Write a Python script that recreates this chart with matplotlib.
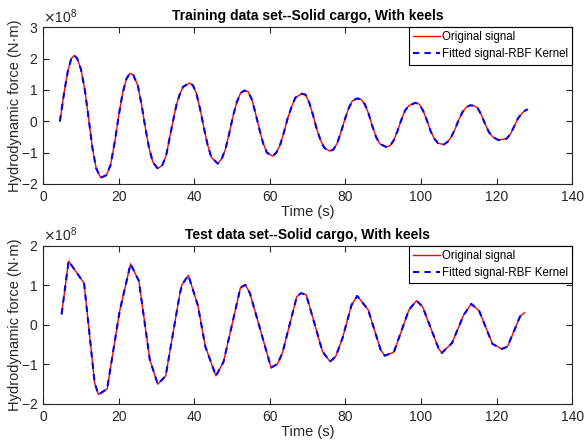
import numpy as np
import matplotlib.pyplot as plt
from matplotlib.ticker import ScalarFormatter

plt.rcParams['font.family'] = ['Liberation Sans', 'DejaVu Sans']

# Training set (time in s, force in 1e8 N*m)
train_t = [4.4, 5.5, 6.5, 7.4, 8.2, 9.0, 10.0, 11.0, 12.0, 13.0, 14.0, 15.2, 16.7, 17.8,
           19.0, 20.0, 21.0, 22.0, 22.9, 23.8, 25.0, 26.0, 27.0, 28.0, 29.0, 30.3, 31.5,
           32.5, 33.5, 34.5, 35.3, 36.1, 37.0, 38.7, 39.6, 40.5, 41.5, 42.5, 43.5, 44.5,
           46.2, 47.2, 48.2, 49.2, 50.2, 51.2, 52.2, 53.2, 54.2, 55.2, 56.2, 57.2, 58.2,
           59.2, 60.7, 61.7, 62.7, 63.7, 64.7, 65.7, 66.7, 68.4, 69.4, 70.4, 71.4, 72.4,
           73.4, 74.4, 75.8, 76.8, 77.8, 78.8, 79.8, 80.8, 81.8, 83.1, 84.1, 85.1, 86.1,
           87.1, 88.1, 89.1, 90.8, 91.8, 92.8, 93.8, 94.8, 95.8, 96.8, 98.5, 99.5, 100.5,
           101.5, 102.5, 103.5, 104.5, 106.0, 107.0, 108.0, 109.0, 110.0, 111.0, 112.0,
           113.0, 114.0, 115.0, 116.0, 117.0, 118.0, 119.0, 120.5, 122.7, 123.7, 124.7,
           125.7, 126.7, 127.5, 128.2]
train_f = [0.0, 0.9, 1.6, 2.0, 2.1, 2.0, 1.65, 1.0, 0.1, -0.85, -1.5, -1.8, -1.72, -1.4,
           -0.6, 0.2, 0.9, 1.35, 1.53, 1.48, 1.15, 0.55, -0.2, -0.85, -1.3, -1.51, -1.4,
           -1.1, -0.5, 0.1, 0.55, 0.85, 1.1, 1.22, 1.15, 0.9, 0.4, -0.2, -0.75, -1.15,
           -1.35, -1.2, -0.9, -0.4, 0.15, 0.6, 0.9, 0.98, 0.95, 0.7, 0.25, -0.25, -0.7,
           -1.0, -1.11, -1.0, -0.75, -0.35, 0.1, 0.45, 0.75, 0.88, 0.85, 0.6, 0.2, -0.25,
           -0.6, -0.85, -0.95, -0.9, -0.7, -0.35, 0.05, 0.4, 0.65, 0.73, 0.7, 0.55, 0.25,
           -0.15, -0.5, -0.72, -0.82, -0.78, -0.6, -0.3, 0.05, 0.35, 0.5, 0.59, 0.55, 0.35,
           0.05, -0.3, -0.55, -0.7, -0.74, -0.66, -0.5, -0.25, 0.05, 0.3, 0.45,
           0.51, 0.5, 0.42, 0.2, -0.1, -0.35, -0.5, -0.6, -0.55, -0.4, -0.15,
           0.1, 0.25, 0.34, 0.38]

# Test set
test_t = [4.85, 6.7, 10.8, 13.6, 14.6, 16.9, 20.2, 23.1, 25.3, 28.2, 30.3, 32.4, 36.1,
          36.7, 38.4, 40.9, 42.9, 45.7, 47.7, 52.2, 53.5, 54.7, 60.3, 62.0, 63.3, 67.1,
          68.2, 69.6, 73.9, 75.9, 77.4, 79.2, 81.6, 83.1, 86.0, 89.3, 90.4, 92.8, 96.8,
          98.8, 100.4, 104.7, 105.5, 108.2, 111.3, 113.3, 115.4, 118.9, 121.4, 122.9,
          126.2, 127.4]
test_f = [0.27, 1.61, 1.05, -1.47, -1.76, -1.62, 0.34, 1.54, 1.11, -0.88, -1.50, -1.29,
          0.76, 1.01, 1.25, 0.50, -0.55, -1.29, -0.94, 0.94, 1.01, 0.80, -1.08, -0.99,
          -0.71, 0.71, 0.80, 0.76, -0.67, -0.93, -0.80, -0.34, 0.50, 0.73, 0.38, -0.63,
          -0.78, -0.69, 0.38, 0.61, 0.46, -0.61, -0.71, -0.46, 0.25, 0.53, 0.35, -0.48,
          -0.61, -0.55, 0.21, 0.31]

SCALE = 1e8
AX_COLOR = '#262626'


def style_axes(ax, title, ylim, yticks):
    ax.set_xlim(0, 140)
    ax.set_xticks(np.arange(0, 141, 20))
    ax.set_ylim(ylim[0] * SCALE, ylim[1] * SCALE)
    ax.set_yticks(np.array(yticks) * SCALE)
    fmt = ScalarFormatter(useMathText=True)
    fmt.set_powerlimits((0, 0))
    ax.yaxis.set_major_formatter(fmt)
    ax.yaxis.get_offset_text().set_fontsize(10)
    ax.yaxis.get_offset_text().set_color(AX_COLOR)
    ax.tick_params(direction='in', top=True, right=True, labelsize=10,
                   colors=AX_COLOR, length=4, width=0.8, pad=4)
    for s in ax.spines.values():
        s.set_color(AX_COLOR)
        s.set_linewidth(0.8)
    ax.set_title(title, fontsize=10, fontweight='bold', pad=5)
    ax.set_xlabel('Time (s)', fontsize=10.5, color=AX_COLOR, labelpad=1)
    ax.set_ylabel('Hydrodynamic force (N·m)', fontsize=10.5, color=AX_COLOR, labelpad=-1)
    leg = ax.legend(loc='upper right', fontsize=8.3, fancybox=False, framealpha=1,
                    borderaxespad=0, edgecolor='black', handlelength=2.3,
                    borderpad=0.35, labelspacing=0.45, handletextpad=0.2)
    leg.get_frame().set_linewidth(0.8)


fig = plt.figure(figsize=(5.85, 4.44), dpi=100)
ax1 = fig.add_axes([0.074, 0.5856, 0.904, 0.353])
ax2 = fig.add_axes([0.074, 0.0901, 0.904, 0.3566])

for ax, t, f in [(ax1, train_t, train_f), (ax2, test_t, test_f)]:
    y = np.array(f) * SCALE
    ax.plot(t, y, color='red', lw=1.0, label='Original signal')
    ax.plot(t, y, color='blue', lw=1.5, ls=(0, (3, 2.5)), label='Fitted signal-RBF Kernel')

style_axes(ax1, 'Training data set--Solid cargo, With keels', (-2, 3), [-2, -1, 0, 1, 2, 3])
style_axes(ax2, 'Test data set--Solid cargo, With keels', (-2, 2), [-2, -1, 0, 1, 2])

fig.savefig('out.png', dpi=100)
